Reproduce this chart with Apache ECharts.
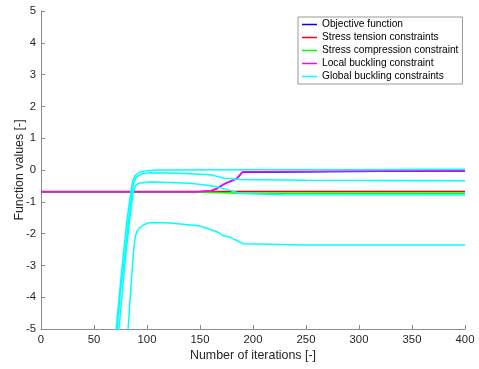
<!DOCTYPE html>
<html>
<head>
<meta charset="utf-8">
<script src="https://cdn.jsdelivr.net/npm/echarts@6/dist/echarts.min.js"></script>
<style>html,body{margin:0;padding:0;background:#fff;}#c{width:479px;height:369px;}</style>
</head>
<body>
<div id="c"></div>
<script>
const xTicks = [0, 50, 100, 150, 200, 250, 300, 350, 400];
const yTicks = [-5, -4, -3, -2, -1, 0, 1, 2, 3, 4, 5];
const seriesNames = ['Objective function', 'Stress tension constraints', 'Stress compression constraint', 'Local buckling constraint', 'Global buckling constraints'];

const objective = [[0,-0.69],[146,-0.69],[160,-0.66],[166,-0.58],[174,-0.42],[180,-0.34],[185,-0.26],[190,-0.07],[228,-0.06],[322,-0.04],[400,-0.03]];
const stressTension = [[0,-0.68],[100,-0.68],[200,-0.68],[300,-0.68],[400,-0.68]];
const stressCompression = [[0,-0.70],[150,-0.70],[165,-0.71],[190,-0.73],[300,-0.73],[400,-0.73]];
const localBuckling = [[0,-0.69],[146,-0.69],[160,-0.66],[166,-0.58],[174,-0.42],[180,-0.34],[185,-0.26],[190,-0.06],[228,-0.05],[322,-0.03],[400,-0.02]];
const globalA = [[70,-5.3],[74,-3.9],[77.6,-2.68],[81,-1.6],[84.8,-0.69],[86.5,-0.35],[89,-0.17],[93,-0.07],[100,-0.02],[110,0],[200,0.01],[300,0.01],[400,0.02]];
const globalB = [[71,-5.3],[75,-3.8],[79,-2.68],[82.5,-1.6],[86,-0.69],[87.6,-0.4],[90,-0.22],[95,-0.12],[103,-0.085],[130,-0.1],[160,-0.15],[166,-0.2],[173,-0.26],[188,-0.3],[250,-0.32],[400,-0.34]];
const globalC = [[73,-5.2],[76.5,-3.9],[80,-2.68],[83.5,-1.6],[87,-0.69],[89,-0.5],[92,-0.42],[97,-0.39],[105,-0.38],[140,-0.42],[155,-0.47],[166,-0.53],[178,-0.64],[188,-0.74],[230,-0.78],[400,-0.79]];
const globalD = [[81.5,-5.3],[84,-4.1],[87,-2.68],[88.5,-2.2],[90.2,-1.94],[93,-1.82],[96.5,-1.73],[101,-1.67],[106,-1.65],[122,-1.67],[150,-1.76],[166,-1.94],[172,-2.07],[178,-2.11],[191,-2.32],[250,-2.36],[400,-2.36]];

const colors = ['#0000ff', '#ff0000', '#00ff00', '#ff00ff', '#00ffff'];
const font = 'Liberation Sans, Arial, sans-serif';

function mk(name, data, color) {
  return {
    name: name, type: 'line', data: data, showSymbol: false, symbol: 'none',
    lineStyle: { color: color, width: 1.5 }, itemStyle: { color: color },
    clip: true, animation: false
  };
}

const chart = echarts.init(document.getElementById('c'), null, { renderer: 'canvas' });
chart.setOption({
  backgroundColor: '#ffffff',
  animation: false,
  grid: { left: 41, right: 14, top: 11, bottom: 40, containLabel: false, outerBoundsMode: 'none' },
  legend: {
    data: seriesNames,
    orient: 'vertical',
    left: 298, top: 17,
    padding: [2, 4, 2, 4],
    itemGap: 2,
    itemWidth: 15, itemHeight: 1.5,
    icon: 'rect',
    borderColor: '#999999', borderWidth: 1,
    backgroundColor: '#ffffff',
    textStyle: { fontFamily: font, fontSize: 10.2, color: '#000000', lineHeight: 11 }
  },
  xAxis: {
    type: 'value', min: xTicks[0], max: xTicks[xTicks.length - 1], interval: 50,
    name: 'Number of iterations [-]', nameLocation: 'middle', nameGap: 21, nameMoveOverlap: false,
    nameTextStyle: { fontFamily: font, fontSize: 12.4, color: '#262626' },
    axisLine: { show: true, onZero: false, lineStyle: { color: '#8c8c8c', width: 1 } },
    axisTick: { show: true, inside: true, length: 4, lineStyle: { color: '#8c8c8c' } },
    axisLabel: { fontFamily: font, fontSize: 11.3, color: '#262626', margin: 5 },
    splitLine: { show: false }
  },
  yAxis: {
    type: 'value', min: yTicks[0], max: yTicks[yTicks.length - 1], interval: 1,
    name: 'Function values [-]', nameLocation: 'middle', nameGap: 15, nameMoveOverlap: false,
    nameTextStyle: { fontFamily: font, fontSize: 12.4, color: '#262626' },
    axisLine: { show: true, onZero: false, lineStyle: { color: '#8c8c8c', width: 1 } },
    axisTick: { show: true, inside: true, length: 4, lineStyle: { color: '#8c8c8c' } },
    axisLabel: { fontFamily: font, fontSize: 11.3, color: '#262626', margin: 5 },
    splitLine: { show: false }
  },
  series: [
    mk(seriesNames[0], objective, colors[0]),
    mk(seriesNames[1], stressTension, colors[1]),
    mk(seriesNames[2], stressCompression, colors[2]),
    mk(seriesNames[3], localBuckling, colors[3]),
    mk(seriesNames[4], globalA, colors[4]),
    mk(seriesNames[4], globalB, colors[4]),
    mk(seriesNames[4], globalC, colors[4]),
    mk(seriesNames[4], globalD, colors[4])
  ]
});
</script>
</body>
</html>
